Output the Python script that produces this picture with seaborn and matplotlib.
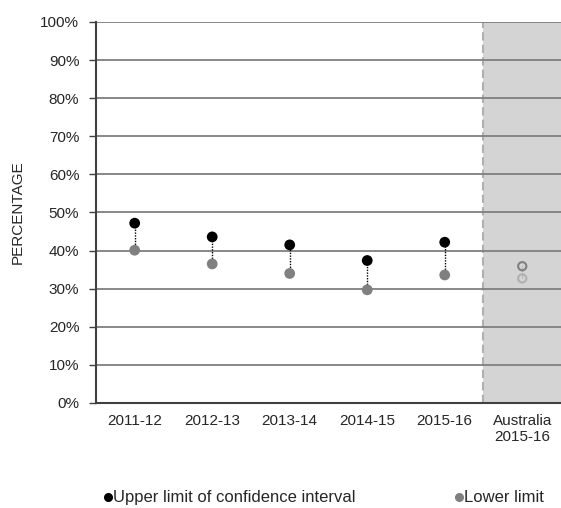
import pandas as pd
import numpy as np
import matplotlib
matplotlib.use("Agg")
import matplotlib.pyplot as plt
import seaborn as sns
from matplotlib.lines import Line2D

# chart values
periods = ["2011-12", "2012-13", "2013-14", "2014-15", "2015-16"]
upper = [47.2, 43.6, 41.5, 37.4, 42.2]
lower = [40.1, 36.5, 34.0, 29.7, 33.6]
aus_label = "Australia\n2015-16"
aus_upper = [35.9]
aus_lower = [32.7]
yticks = list(range(0, 101, 10))

sns.set_style("white")
plt.rcParams["font.family"] = ["Liberation Sans", "DejaVu Sans"]

cats = periods + [aus_label]
df = pd.DataFrame({
    "period": periods * 2,
    "value": upper + lower,
    "series": ["Upper"] * len(periods) + ["Lower"] * len(periods),
})
df["pos"] = df["period"].map({c: i for i, c in enumerate(cats)})

fig = plt.figure(figsize=(5.61, 5.08), dpi=100)
ax = fig.add_axes([0.171, 0.2067, 0.829, 0.75])

# shaded Australia column
ax.axvspan(4.5, 5.5, color="#d4d4d4", zorder=0, lw=0)
ax.axvline(4.5, color="#b0b0b0", ls=(0, (4, 2)), lw=1.5, zorder=1)

for t in yticks[1:]:
    ax.axhline(t, color="#7f7f7f", lw=1.3, zorder=1)

# dotted connectors
pos = np.arange(len(periods))
ax.vlines(pos, lower, upper, colors="black", linestyles=(0, (1, 1)), lw=1, zorder=2)
ax.vlines([5], aus_lower, aus_upper, colors="#a0a0a0", linestyles=(0, (1, 1)), lw=0.8, zorder=2)

sns.scatterplot(data=df, x="pos", y="value", hue="series",
                palette={"Upper": "black", "Lower": "#808080"},
                s=60, edgecolor="none", legend=False, ax=ax, zorder=3)

ax.scatter([5], aus_upper, s=35, facecolors="none", edgecolors="#808080", lw=1.5, zorder=3)
ax.scatter([5], aus_lower, s=35, facecolors="none", edgecolors="#b0b0b0", lw=1.5, zorder=3)

ax.set_xlim(-0.5, 5.5)
ax.set_ylim(0, 100)
ax.set_yticks(yticks)
ax.set_yticklabels([f"{t}%" for t in yticks], fontsize=11)
ax.set_xticks(range(len(cats)))
ax.set_xticklabels(cats, fontsize=11)
ax.set_xticks(np.arange(-0.5, 5.6, 1), minor=True)
ax.tick_params(axis="x", which="major", length=0, pad=8)
ax.tick_params(axis="x", which="minor", length=5, color="#404040", width=1, direction="out")
ax.tick_params(axis="y", length=5, color="#404040", width=1, direction="out", left=True, pad=7)
ax.set_xlabel("")
ax.set_ylabel("PERCENTAGE", fontsize=11, labelpad=11)

for side in ["top", "right"]:
    ax.spines[side].set_visible(False)
ax.spines["left"].set_color("#404040")
ax.spines["left"].set_linewidth(1.5)
ax.spines["bottom"].set_color("#404040")
ax.spines["bottom"].set_linewidth(1.5)

h1 = Line2D([], [], marker="o", ls="", color="black", markersize=5.5)
h2 = Line2D([], [], marker="o", ls="", color="#808080", markersize=5.5)
fig.legend([h1], ["Upper limit of confidence interval"], loc="center left",
           bbox_to_anchor=(0.1866, 0.02), frameon=False, fontsize=12,
           handlelength=0.4, handletextpad=0.1, borderaxespad=0, borderpad=0)
fig.legend([h2], ["Lower limit"], loc="center left",
           bbox_to_anchor=(0.8123, 0.02), frameon=False, fontsize=12,
           handlelength=0.4, handletextpad=0.1, borderaxespad=0, borderpad=0)

fig.savefig("out.png", dpi=100)
